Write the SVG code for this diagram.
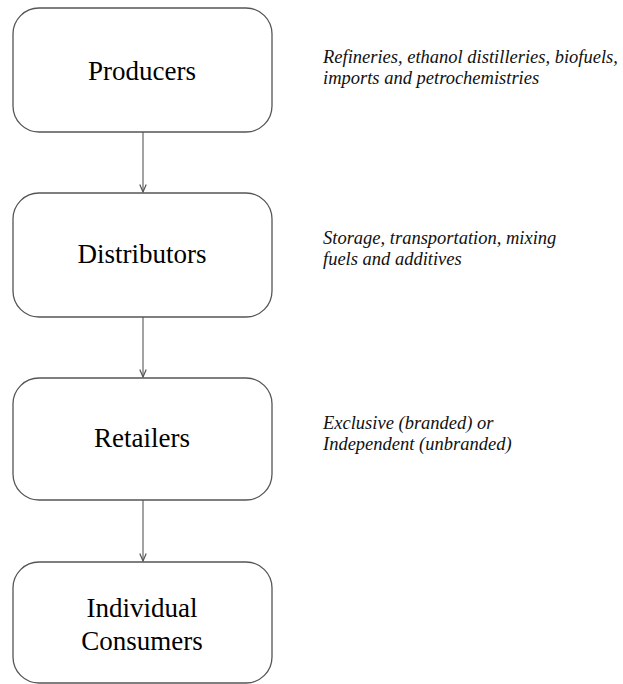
<svg xmlns="http://www.w3.org/2000/svg" width="623" height="684" viewBox="0 0 623 684">
<defs>
<marker id="arr" markerWidth="10" markerHeight="10" refX="9" refY="5" orient="auto" markerUnits="userSpaceOnUse" viewBox="0 0 10 10">
<path d="M1.5,1.8 L9,5 L1.5,8.2" fill="none" stroke="#555" stroke-width="1.2"/>
</marker>
</defs>
<style>
.box{fill:#fff;stroke:#555;stroke-width:1.3}
.lbl{font-family:"Liberation Serif","Times New Roman",serif;font-size:27px;fill:#000;text-anchor:middle}
.note{font-family:"Liberation Serif","Times New Roman",serif;font-style:italic;font-size:18.5px;fill:#111}
.con{stroke:#666;stroke-width:1.2;fill:none}
</style>
<rect width="623" height="684" fill="#fff"/>
<g id="connectors">
<line class="con" x1="143" y1="132" x2="143" y2="192" marker-end="url(#arr)"/>
<line class="con" x1="143" y1="317" x2="143" y2="377" marker-end="url(#arr)"/>
<line class="con" x1="143" y1="500" x2="143" y2="561" marker-end="url(#arr)"/>
</g>
<g id="producers">
<rect class="box" x="13" y="8" width="259" height="124" rx="26" ry="26"/>
<text class="lbl" x="142" y="80">Producers</text>
</g>
<g id="distributors">
<rect class="box" x="13" y="193" width="259" height="124" rx="26" ry="26"/>
<text class="lbl" x="142" y="263">Distributors</text>
</g>
<g id="retailers">
<rect class="box" x="13" y="378" width="259" height="122" rx="26" ry="26"/>
<text class="lbl" x="142" y="447">Retailers</text>
</g>
<g id="consumers">
<rect class="box" x="13" y="562" width="259" height="121" rx="26" ry="26"/>
<text class="lbl" x="142" y="617">Individual</text>
<text class="lbl" x="142" y="650">Consumers</text>
</g>
<g id="notes">
<text class="note" x="323" y="63">Refineries, ethanol distilleries, biofuels,</text>
<text class="note" x="323" y="84">imports and petrochemistries</text>
<text class="note" x="323" y="244">Storage, transportation, mixing</text>
<text class="note" x="323" y="265">fuels and additives</text>
<text class="note" x="323" y="429">Exclusive (branded) or</text>
<text class="note" x="323" y="450">Independent (unbranded)</text>
</g>
</svg>
